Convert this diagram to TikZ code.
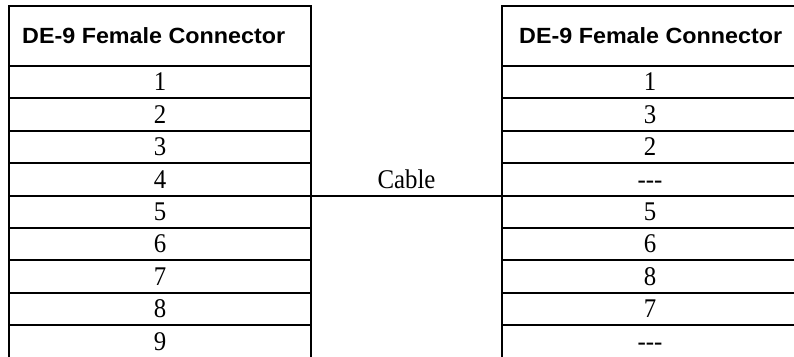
\documentclass[tikz,border=0pt]{standalone}
\usepackage{fontspec}
\setmainfont{Liberation Serif}[FakeStretch=0.92]
\newfontfamily\headfont{Liberation Sans}[FakeStretch=1.06]
\usetikzlibrary{positioning,calc}

\begin{document}
\begin{tikzpicture}[x=1pt,y=1pt,
    cell/.style={draw,line width=2pt,outer sep=0pt,inner sep=0pt,
      minimum height=32.4pt,text height=17.4pt,text depth=0pt,
      font=\fontsize{27}{30}\selectfont},
    left cell/.style={cell,minimum width=302pt},
    right cell/.style={cell,minimum width=296pt},
    head cell/.style={draw,line width=2pt,outer sep=0pt,minimum height=60pt},
    head text/.style={inner sep=0pt,font=\headfont\fontsize{22}{26}\selectfont\bfseries}]
  \useasboundingbox (0,0) rectangle (794,-356);
  % left connector
  \node[head cell,minimum width=302pt] (lhead) at (160,-36) {};
  \node[head text,right=13pt of lhead.west] (ltitle) {DE-9 Female Connector};
  \node[left cell] (l1) [below=0pt of lhead] {1};
  \node[left cell] (l2) [below=0pt of l1] {2};
  \node[left cell] (l3) [below=0pt of l2] {3};
  \node[left cell] (l4) [below=0pt of l3] {4};
  \node[left cell] (l5) [below=0pt of l4] {5};
  \node[left cell] (l6) [below=0pt of l5] {6};
  \node[left cell] (l7) [below=0pt of l6] {7};
  \node[left cell] (l8) [below=0pt of l7] {8};
  \node[left cell] (l9) [below=0pt of l8] {9};
  % right connector
  \node[head cell,minimum width=296pt] (rhead) at (650,-36) {};
  \node[head text,right=17pt of rhead.west] (rtitle) {DE-9 Female Connector};
  \node[right cell] (r1) [below=0pt of rhead] {1};
  \node[right cell] (r2) [below=0pt of r1] {3};
  \node[right cell] (r3) [below=0pt of r2] {2};
  \node[right cell] (r4) [below=0pt of r3] {-\kern0pt-\kern0pt-};
  \node[right cell] (r5) [below=0pt of r4] {5};
  \node[right cell] (r6) [below=0pt of r5] {6};
  \node[right cell] (r7) [below=0pt of r6] {8};
  \node[right cell] (r8) [below=0pt of r7] {7};
  \node[right cell] (r9) [below=0pt of r8] {-\kern0pt-\kern0pt-};
  % cable
  \node[cell,draw=none] (cable) at ($(l4.east)!0.5!(r4.west)$) {Cable};
  \draw[line width=2pt] (l5.north east) -- (r5.north west);
\end{tikzpicture}
\end{document}
